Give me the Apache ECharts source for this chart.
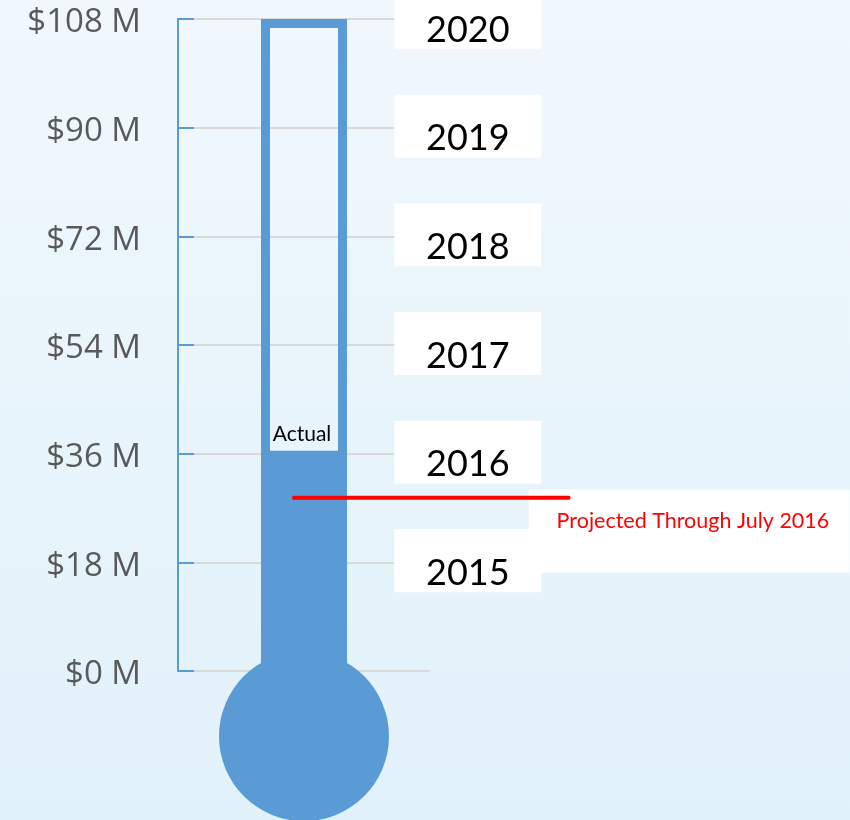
<!DOCTYPE html>
<html>
<head>
<meta charset="utf-8">
<script src="https://cdn.jsdelivr.net/npm/echarts@6/dist/echarts.min.js"></script>
<style>
html,body{margin:0;padding:0;}
#thermo{width:850px;height:820px;}
</style>
</head>
<body>
<div id="thermo"></div>
<script>
// values in $M
var goalValue = 108;
var actualValue = 36.5;
var projectedValue = 28.7;
var bulbValue = -10.8;
var yearLabels = ['2020', '2019', '2018', '2017', '2016', '2015'];
var yearValues = [108, 90, 72, 54, 36, 18];
// horizontal extent of the projected marker, in units of the helper x axis
var projectedSpan = [0.46, 1.55];
var yearLabelX = 1.15;

var blue = '#5b9bd5';
var font = 'Lato';

var myChart = echarts.init(document.getElementById('thermo'));

var option = {
  animation: false,
  backgroundColor: new echarts.graphic.LinearGradient(0, 0, 0, 1, [
    { offset: 0, color: '#f0f8fd' },
    { offset: 1, color: '#e1f1fa' }
  ]),
  grid: { left: 178, right: 420, top: 19, bottom: 149, outerBoundsMode: 'none' },
  xAxis: [
    { type: 'category', data: [''], show: false },
    { type: 'value', min: 0, max: 1, show: false },
    { type: 'category', data: [''], show: false }
  ],
  yAxis: {
    type: 'value',
    min: 0,
    max: 108,
    interval: 18,
    axisLine: { show: true, lineStyle: { color: blue, width: 2 } },
    axisTick: { show: true, inside: true, length: 16, lineStyle: { color: blue, width: 2 } },
    axisLabel: {
      margin: 37,
      formatter: function (v) { return '{t|$' + v + ' M}'; },
      rich: {
        t: {
          color: '#595959',
          fontFamily: 'Open Sans',
          fontSize: 33,
          lineHeight: 40,
          padding: [8, 0, 0, 0]
        }
      }
    },
    splitLine: { lineStyle: { color: '#d9d9d9', width: 2 } }
  },
  series: [
    {
      // glass outline
      name: 'goal',
      type: 'bar',
      xAxisIndex: 2,
      data: [goalValue],
      barWidth: 86,
      itemStyle: { color: 'rgba(0,0,0,0)', borderColor: blue, borderWidth: 9 },
      z: 3
    },
    {
      name: 'actual',
      type: 'bar',
      data: [actualValue],
      barWidth: 86,
      itemStyle: { color: blue },
      label: {
        show: true,
        position: 'top',
        distance: 6,
        offset: [-2, 0],
        formatter: 'Actual',
        color: '#000',
        fontFamily: font,
        fontSize: 21
      },
      z: 4
    },
    {
      // bulb
      name: 'bulb',
      type: 'scatter',
      data: [bulbValue],
      symbol: 'circle',
      symbolSize: 170,
      clip: false,
      itemStyle: { color: blue, opacity: 1 },
      z: 4
    },
    {
      name: 'years',
      type: 'scatter',
      xAxisIndex: 1,
      clip: false,
      symbolSize: 0,
      itemStyle: { opacity: 1 },
      data: yearValues.map(function (v, i) { return { value: [yearLabelX, v], name: yearLabels[i] }; }),
      label: {
        show: true,
        position: 'inside',
        verticalAlign: 'top',
        offset: [0, -33],
        formatter: '{b}',
        color: '#000',
        fontFamily: font,
        fontSize: 36,
        backgroundColor: '#fff',
        width: 147,
        lineHeight: 38,
        align: 'center',
        padding: [25, 0, 0, 0]
      },
      z: 2
    },
    {
      name: 'projectedLabel',
      type: 'scatter',
      xAxisIndex: 1,
      clip: false,
      symbolSize: 0,
      itemStyle: { opacity: 1 },
      data: [[projectedSpan[1], projectedValue]],
      label: {
        show: true,
        position: 'inside',
        align: 'left',
        verticalAlign: 'top',
        offset: [-40, -8],
        formatter: 'Projected Through July 2016',
        color: '#ff0000',
        fontFamily: font,
        fontSize: 21.5,
        backgroundColor: '#fff',
        width: 293,
        height: 61,
        padding: [20, 0, 2, 28]
      },
      z: 2
    },
    {
      name: 'projected',
      type: 'custom',
      xAxisIndex: 1,
      clip: false,
      data: [[projectedSpan[0], projectedSpan[1], projectedValue]],
      renderItem: function (params, api) {
        var a = api.coord([api.value(0), api.value(2)]);
        var b = api.coord([api.value(1), api.value(2)]);
        return {
          type: 'line',
          shape: { x1: a[0], y1: a[1], x2: b[0], y2: b[1] },
          style: { stroke: '#ff0000', lineWidth: 4, lineCap: 'round' }
        };
      },
      z: 10
    }
  ]
};

myChart.setOption(option);
</script>
</body>
</html>
